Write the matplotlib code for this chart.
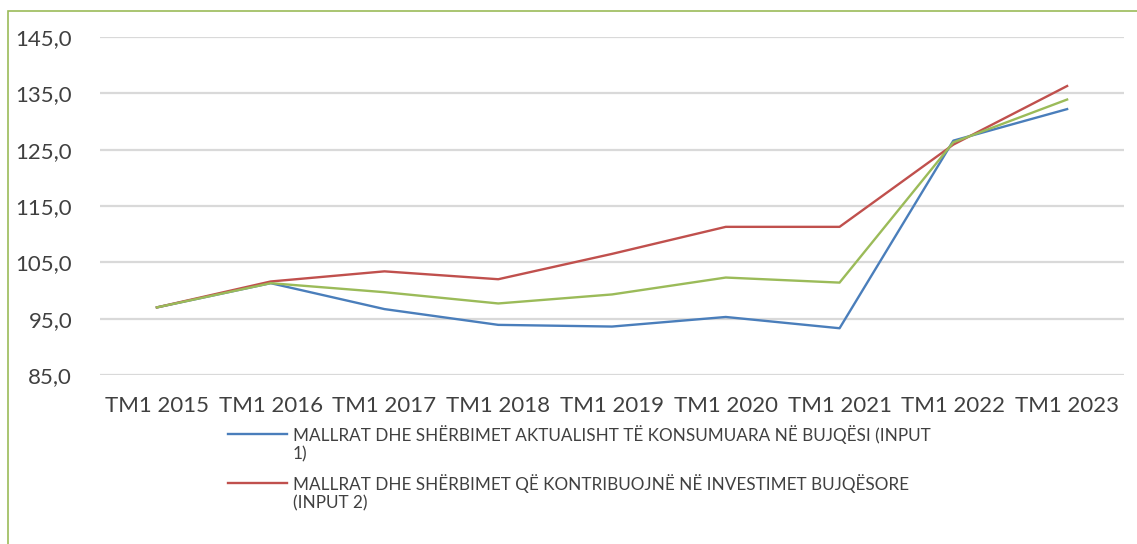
import matplotlib.pyplot as plt
from matplotlib.lines import Line2D
from matplotlib.patches import Rectangle

plt.rcParams['font.family'] = ['Lato', 'DejaVu Sans']

categories = ["TM1 2015", "TM1 2016", "TM1 2017", "TM1 2018", "TM1 2019",
              "TM1 2020", "TM1 2021", "TM1 2022", "TM1 2023"]
input1 = [97.0, 101.3, 96.7, 93.9, 93.6, 95.3, 93.3, 126.6, 132.2]
input2 = [97.0, 101.6, 103.4, 102.0, 106.5, 111.3, 111.3, 125.9, 136.3]
total = [97.0, 101.3, 99.7, 97.7, 99.3, 102.3, 101.4, 126.3, 133.9]

label1 = "MALLRAT DHE SHËRBIMET AKTUALISHT TË KONSUMUARA NË BUJQËSI (INPUT\n1)"
label2 = "MALLRAT DHE SHËRBIMET QË KONTRIBUOJNË NË INVESTIMET BUJQËSORE\n(INPUT 2)"

blue = '#4a7ebb'
red = '#c0504d'
green = '#9bbb59'

fig = plt.figure(figsize=(11.37, 5.44), dpi=100)
ax = fig.add_axes([100 / 1137, 1 - 375 / 544, 1024 / 1137, 338 / 544])

x = range(len(categories))
ax.plot(x, input1, color=blue, lw=1.7)
ax.plot(x, input2, color=red, lw=1.7)
ax.plot(x, total, color=green, lw=1.7)

ax.set_xlim(-0.5, len(categories) - 0.5)
ax.set_ylim(85, 145)
ax.set_yticks(range(85, 146, 10))
ax.set_yticklabels([f"{v},0" for v in range(85, 146, 10)])
ax.set_xticks(list(x))
ax.set_xticklabels(categories)
ax.grid(axis='y', color='#d9d9d9', lw=1.6)
ax.set_axisbelow(True)
for s in ax.spines.values():
    s.set_visible(False)
ax.tick_params(axis='both', length=0, labelsize=16, colors='#404040')
ax.tick_params(axis='y', pad=20)
ax.tick_params(axis='x', pad=15)

# legend (drawn by hand so the line sits on the first text line)
for col, lab, ypix in [(blue, label1, 434), (red, label2, 483)]:
    yf = 1 - ypix / 544
    fig.add_artist(Line2D([228 / 1137, 287 / 1137], [yf, yf], color=col, lw=1.7,
                          transform=fig.transFigure))
    fig.text(293 / 1137, yf + 9 / 544, lab, fontsize=12.3, color='#404040',
             va='top', ha='left', linespacing=1.22)

# chart frame
fig.add_artist(Rectangle((8 / 1137, -0.1), 1.2, 1.1 - 11 / 544, fill=False,
                         edgecolor=green, lw=1.2, transform=fig.transFigure))

fig.savefig('out.png', dpi=100)
